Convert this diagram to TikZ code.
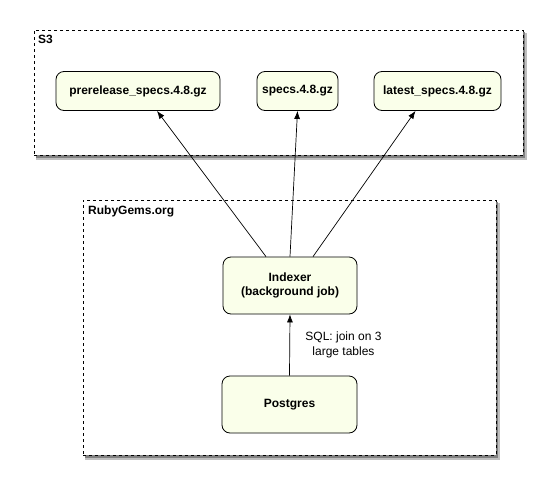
\documentclass[tikz,border=0pt]{standalone}
\usepackage{fontspec}
\setmainfont{Liberation Sans}
\usetikzlibrary{arrows.meta}
\definecolor{nodefill}{RGB}{250,255,234}
\tikzset{
  x=1pt,y=-1pt,
  container/.style={draw=black,dashed,line width=0.8pt,fill=white,inner sep=0pt},
  shade1/.style={fill=black!25},
  shade2/.style={fill=black!50},
  item/.style={draw=black,line width=0.8pt,fill=nodefill,rounded corners=8pt,
    minimum height=39pt,align=center,font=\bfseries\fontsize{12}{14}\selectfont,inner sep=2pt},
  title/.style={anchor=north west,font=\bfseries\fontsize{12}{14}\selectfont,inner sep=0pt},
  arr/.style={-{Latex[length=8pt,width=6pt]},line width=0.7pt},
}
\begin{document}
\begin{tikzpicture}
\useasboundingbox (0,0) rectangle (555,493);
\fill[white] (0,0) rectangle (555,493);
% shadows
\fill[shade1] (36,33) rectangle (527,160);
\fill[shade2] (36,32) rectangle (525,158);
\fill[shade1] (85,203) rectangle (500,460);
\fill[shade2] (85,202) rectangle (498,458);
% containers
\node[container,minimum width=489pt,minimum height=125pt] (s3) at (278.5,92.5) {};
\node[title] (s3t) at (38,35) {S3};
\node[container,minimum width=413pt,minimum height=255pt] (rg) at (289.5,327.5) {};
\node[title] (rgt) at (88,206) {RubyGems.org};
% nodes
\node[item,minimum width=164pt] (pre) at (138,91) {prerelease\_specs.4.8.gz};
\node[item,minimum width=81pt] (spec) at (297.5,91) {specs.4.8.gz};
\node[item,minimum width=127pt] (lat) at (437.5,91) {latest\_specs.4.8.gz};
\node[item,minimum width=134pt,minimum height=57pt] (idx) at (290,285.5) {Indexer\\(background job)};
\node[item,minimum width=135pt,minimum height=57pt] (pg) at (289.5,404.5) {Postgres};
% arrows
\draw[arr] ([xshift=-24pt]idx.north) -- ([xshift=19pt]pre.south);
\draw[arr] ([xshift=0pt]idx.north) -- ([xshift=0pt]spec.south);
\draw[arr] ([xshift=23pt]idx.north) -- ([xshift=-22pt]lat.south);
\draw[arr] (pg.north) -- node[right=12pt,align=center,font=\fontsize{12}{15}\selectfont] (sql) {SQL: join on 3\\large tables} (idx.south);
\end{tikzpicture}
\end{document}
